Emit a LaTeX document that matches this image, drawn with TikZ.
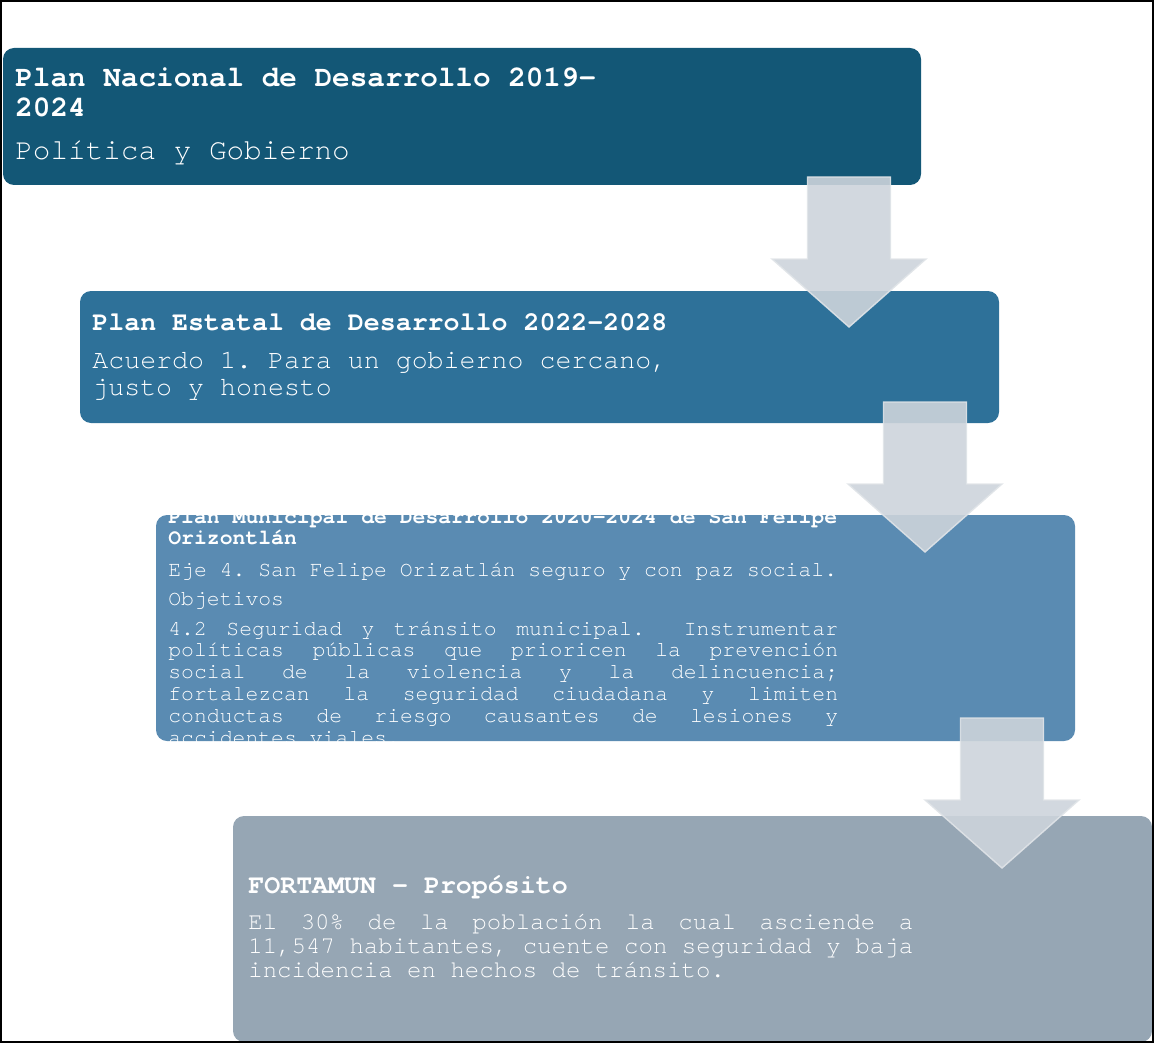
\documentclass[tikz,border=0pt]{standalone}
\usepackage{fontspec}
\setmonofont{texgyrecursor}[Extension=.otf,UprightFont=*-regular,BoldFont=*-bold,ItalicFont=*-italic,BoldItalicFont=*-bolditalic]
\usetikzlibrary{calc}
\definecolor{nacional}{RGB}{19,87,118}
\definecolor{estatal}{RGB}{46,113,153}
\definecolor{municipal}{RGB}{90,139,178}
\definecolor{fortamun}{RGB}{150,166,180}
\definecolor{flechagris}{RGB}{205,212,219}
\definecolor{flechaborde}{RGB}{224,228,232}
\tikzset{plan/.style={rounded corners=0.22cm}}
\tikzset{flecha/.style={fill=flechagris,fill opacity=0.9,draw=flechaborde,draw opacity=0.9,line width=0.8pt,line join=miter}}
\tikzset{titulo/.style 2 args={anchor=base west,inner sep=0pt,text=white,align=left,text width=14cm,
  font=\ttfamily\bfseries\fontsize{#1}{#2}\selectfont,
  execute at begin node={\spaceskip=0.6em\relax}}}
\tikzset{cuerpo/.style 2 args={anchor=base west,inner sep=0pt,text=white,align=left,text width=14cm,
  font=\ttfamily\fontsize{#1}{#2}\selectfont,
  execute at begin node={\frenchspacing\hyphenpenalty=10000\relax\spaceskip=0.6em plus 1.5em minus 0.05em\relax}}}

\begin{document}
\begin{tikzpicture}[x=0.02cm,y=-0.02cm]
	\useasboundingbox (0,0) rectangle (1155,1044);
	% cajas de los planes
	\fill [plan,nacional] (3,48) rectangle (921,185);
	\fill [plan,estatal] (80,291) rectangle (999,423);
	\fill [plan,municipal] (156,515) rectangle (1075,741);
	\fill [plan,fortamun] (233,816) rectangle (1152,1042);

	\node [titulo={16.7pt}{16.8pt}] (tnac) at (15,87) {Plan Nacional de Desarrollo 2019-\\2024};
	\node [cuerpo={16.7pt}{16.8pt}] (cnac) at (15,160) {Política y Gobierno};

	\node [titulo={15.15pt}{15.4pt}] (test) at (92,330) {Plan Estatal de Desarrollo 2022-2028};
	\node [cuerpo={15.15pt}{15.4pt}] (cest) at (92,368) {Acuerdo 1. Para un gobierno cercano,\\justo y honesto};

	% el texto municipal se sale de su caja
	\begin{scope}
		\clip [plan] (156,515) rectangle (1075,741);
		\node [titulo={12.2pt}{12.5pt}] (tmun) at (168,523) {Plan Municipal de Desarrollo 2020-2024 de San Felipe\\Orizontlán};
		\node [cuerpo={12.2pt}{12.5pt}] (emun) at (168,576) {Eje 4. San Felipe Orizatlán seguro y con paz social.};
		\node [cuerpo={12.2pt}{12.5pt}] (omun) at (168,605) {Objetivos};
		\node [cuerpo={12.2pt}{12.5pt},align=justify,text width=13.4cm] (cmun) at (168,635) {4.2 Seguridad y tránsito municipal.\ \ Instrumentar\linebreak
			políticas públicas que prioricen la prevención\linebreak
			social de la violencia y la delincuencia;\linebreak
			fortalezcan la seguridad ciudadana y limiten\linebreak
			conductas de riesgo causantes de lesiones y\linebreak
			accidentes viales.};
	\end{scope}

	\node [titulo={15.15pt}{15.4pt}] (tfor) at (248,893) {FORTAMUN - Propósito};
	\node [cuerpo={13.7pt}{13.66pt},align=justify,text width=13.3cm] (cfor) at (248,929) {El 30\% de la población la cual asciende a\linebreak
		11,547 habitantes, cuente con seguridad y baja\linebreak
		incidencia en hechos de tránsito.};

	% flechas entre los planes
	\coordinate (f1) at (849,177);
	\coordinate (f2) at (925,402);
	\coordinate (f3) at (1002,718);
	\draw [flecha] ($(f1)+(-41.5,0)$) -- ++(83,0) -- ++(0,82) -- ++(35.5,0) -- ($(f1)+(0,150)$) -- ++(-77,-68) -- ++(35.5,0) -- cycle;
	\draw [flecha] ($(f2)+(-41.5,0)$) -- ++(83,0) -- ++(0,82) -- ++(35.5,0) -- ($(f2)+(0,150)$) -- ++(-77,-68) -- ++(35.5,0) -- cycle;
	\draw [flecha] ($(f3)+(-41.5,0)$) -- ++(83,0) -- ++(0,82) -- ++(35.5,0) -- ($(f3)+(0,150)$) -- ++(-77,-68) -- ++(35.5,0) -- cycle;

	\draw [line width=1.1pt] (1,1) rectangle (1153,1042);
\end{tikzpicture}
\end{document}
